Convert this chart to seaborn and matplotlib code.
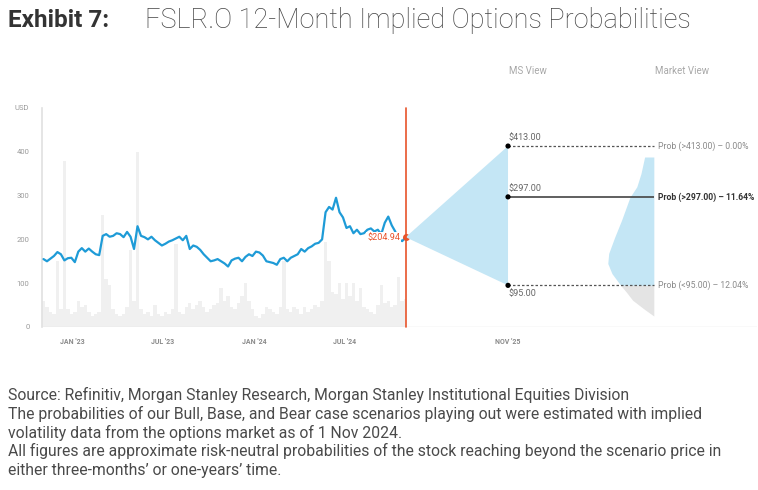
import numpy as np
import pandas as pd
import matplotlib.pyplot as plt
import seaborn as sns

sns.set_theme(style="white")
plt.rcParams['font.family'] = ['Roboto', 'DejaVu Sans']

# weekly closes (USD), Nov 2022 - Nov 2024
price = [155, 150, 156, 162, 171, 166, 152, 157, 158, 148,
         172, 180, 172, 179, 172, 166, 164, 208, 212, 206,
         208, 214, 212, 205, 217, 206, 178, 230, 208, 205,
         200, 206, 198, 192, 186, 190, 195, 198, 202, 206,
         198, 208, 178, 186, 183, 176, 166, 158, 150, 152,
         155, 150, 145, 138, 152, 156, 158, 150, 160, 166,
         162, 172, 170, 163, 150, 148, 146, 142, 155, 158,
         150, 158, 162, 166, 178, 172, 180, 184, 190, 192,
         200, 262, 274, 268, 295, 262, 250, 226, 230, 214,
         222, 212, 214, 222, 225, 218, 222, 212, 238, 252,
         232, 218, 200, 196, 204.94]

# traded volume, drawn on the price scale
volume = [60, 45, 35, 30, 150, 40, 380, 40, 30, 35,
          60, 45, 50, 35, 25, 30, 35, 255, 110, 95,
          40, 30, 25, 30, 45, 175, 60, 400, 40, 30,
          35, 25, 50, 30, 25, 35, 30, 40, 190, 35,
          30, 45, 55, 40, 50, 60, 45, 35, 40, 50,
          55, 90, 60, 70, 45, 40, 55, 70, 100, 60,
          40, 25, 20, 30, 45, 40, 35, 30, 45, 150,
          40, 35, 45, 40, 30, 45, 35, 40, 50, 45,
          60, 195, 150, 80, 75, 100, 65, 100, 70, 100,
          60, 90, 45, 40, 35, 30, 50, 95, 55, 60,
          45, 50, 115, 60, 65]

dates = pd.date_range(end="2024-11-01", periods=len(price), freq="7D")

last_price = 204.94
scenarios = [413.00, 297.00, 95.00]
scenario_labels = ["$413.00", "$297.00", "$95.00"]
prob_labels = ["Prob (>413.00) \u2013 0.00%", "Prob (>297.00) \u2013 11.64%",
               "Prob (<95.00) \u2013 12.04%"]

# market implied distribution: price level vs relative density
dist_price = [25, 40, 61, 80, 95, 122, 145, 168, 205, 244, 296, 320, 350, 388]
dist_density = [0.0, 0.2, 0.46, 0.6, 0.72, 0.91, 1.0, 0.98, 0.85, 0.7, 0.52, 0.37, 0.28, 0.2]

tick_dates = pd.to_datetime(["2023-01-01", "2023-07-01", "2024-01-01", "2024-07-01"])
tick_labels = ["JAN '23", "JUL '23", "JAN '24", "JUL '24"]

blue = "#1e9bd7"
light_blue = "#c4e6f5"
red = "#e8542b"
grid_grey = "#e2e2e2"

fig = plt.figure(figsize=(7.58, 4.90), dpi=100)
ax1 = fig.add_axes([0.0554, 0.3327, 0.4798, 0.447])
ax2 = fig.add_axes([0.5352, 0.3327, 0.4635, 0.447])
ax2.patch.set_alpha(0)

# --- history ---
ax1.bar(dates, volume, width=7, color="#f0f0f0", linewidth=0, zorder=1)
sns.lineplot(x=dates, y=price, ax=ax1, color=blue, linewidth=1.6, zorder=3)
ax1.scatter([dates[-1]], [last_price], color=red, s=16, zorder=6, clip_on=False)
ax1.annotate(f"${last_price:.2f}", (dates[-1], last_price), xytext=(-4, 0),
             textcoords="offset points", ha="right", va="center", color=red, fontsize=6.5,
             bbox=dict(facecolor="white", edgecolor="none", pad=0.6), zorder=5)
ax1.axhline(0, color=grid_grey, linewidth=1, zorder=2)
ax1.set_xlim(pd.Timestamp("2022-11-01"), dates[-1])
ax1.set_ylim(0, 500)
ax1.set_yticks([0, 100, 200, 300, 400, 500])
ax1.set_yticklabels(["0", "100", "200", "300", "400", "USD"])
ax1.set_xticks(tick_dates)
ax1.set_xticklabels(tick_labels)
ax1.tick_params(axis="y", length=0, pad=9, labelsize=5.5, labelcolor="#9a9a9a")
ax1.tick_params(axis="x", length=2, color="#cccccc", pad=6, labelsize=5, labelcolor="#8a8a8a")
for lab in ax1.get_xticklabels():
    lab.set_fontweight("bold")
for s in ["top", "right", "bottom"]:
    ax1.spines[s].set_visible(False)
ax1.spines["left"].set_color(grid_grey)
ax1.set_xlabel("")
ax1.set_ylabel("")

# --- MS view / market view ---
horizon = 12
edge = 29.1
max_w = 5.4
ax2.axvline(0, color=red, linewidth=1.2, zorder=2, clip_on=False)
ax2.fill([0, horizon, horizon], [last_price, scenarios[0], scenarios[2]],
         color=light_blue, linewidth=0, zorder=1)

dp = np.array(dist_price)
left = edge - max_w * np.array(dist_density)
ax2.fill_betweenx(dp, left, edge, where=dp >= 95, color=light_blue, linewidth=0, zorder=1)
ax2.fill_betweenx(dp, left, edge, where=dp <= 95, color="#e4e4e4", linewidth=0, zorder=1)

for i, (lvl, lab, plab) in enumerate(zip(scenarios, scenario_labels, prob_labels)):
    if i == 1:
        ax2.hlines(lvl, horizon, edge, color="#444444", linewidth=1.2, zorder=3)
    else:
        ax2.hlines(lvl, horizon, edge, color="#555555", linewidth=0.9,
                   linestyles=(0, (2, 1.6)), zorder=3)
    off = -8 if i == 2 else 8
    ax2.text(horizon + 0.1, lvl + off, lab, ha="left", va="top" if i == 2 else "bottom",
             fontsize=6.5, color="#666666")
    ax2.text(edge + 0.5, lvl, plab, ha="left", va="center", fontsize=6.2,
             color="#333333" if i == 1 else "#8a8a8a",
             fontweight="bold" if i == 1 else "normal")
sns.scatterplot(x=[horizon] * 3, y=scenarios, ax=ax2, color="black", s=14,
                edgecolor="none", zorder=4, legend=False)

ax2.text(14.3, 585, "MS View", ha="center", va="center", fontsize=7, color="#a8a8a8")
ax2.text(32.4, 585, "Market View", ha="center", va="center", fontsize=7, color="#a8a8a8")

ax2.axhline(0, color=grid_grey, linewidth=1, zorder=0)
ax2.set_xlim(0, 41.2)
ax2.set_ylim(0, 500)
ax2.set_yticks([])
ax2.set_xticks([horizon])
ax2.set_xticklabels(["NOV '25"])
ax2.tick_params(axis="x", length=2, color="#cccccc", pad=6, labelsize=5, labelcolor="#8a8a8a")
for lab in ax2.get_xticklabels():
    lab.set_fontweight("bold")
for s in ax2.spines.values():
    s.set_visible(False)
ax2.set_xlabel("")
ax2.set_ylabel("")

# --- title and notes ---
fig.text(0.0106, 0.959, "Exhibit 7:", fontsize=17.5, fontweight="bold", color="#333333", va="center")
fig.text(0.191, 0.959, "FSLR.O 12-Month Implied Options Probabilities", fontsize=19.5,
         fontweight="light", color="#444444", va="center")

notes = ["Source: Refinitiv, Morgan Stanley Research, Morgan Stanley Institutional Equities Division",
         "The probabilities of our Bull, Base, and Bear case scenarios playing out were estimated with implied",
         "volatility data from the options market as of 1 Nov 2024.",
         "All figures are approximate risk-neutral probabilities of the stock reaching beyond the scenario price in",
         "either three-months\u2019 or one-years\u2019 time."]
for k, line in enumerate(notes):
    fig.text(0.0106, 1 - (395 + 18.8 * k) / 490, line, fontsize=11.3,
             color="#4a4a4a", va="center")

fig.savefig("out.png", dpi=100)
